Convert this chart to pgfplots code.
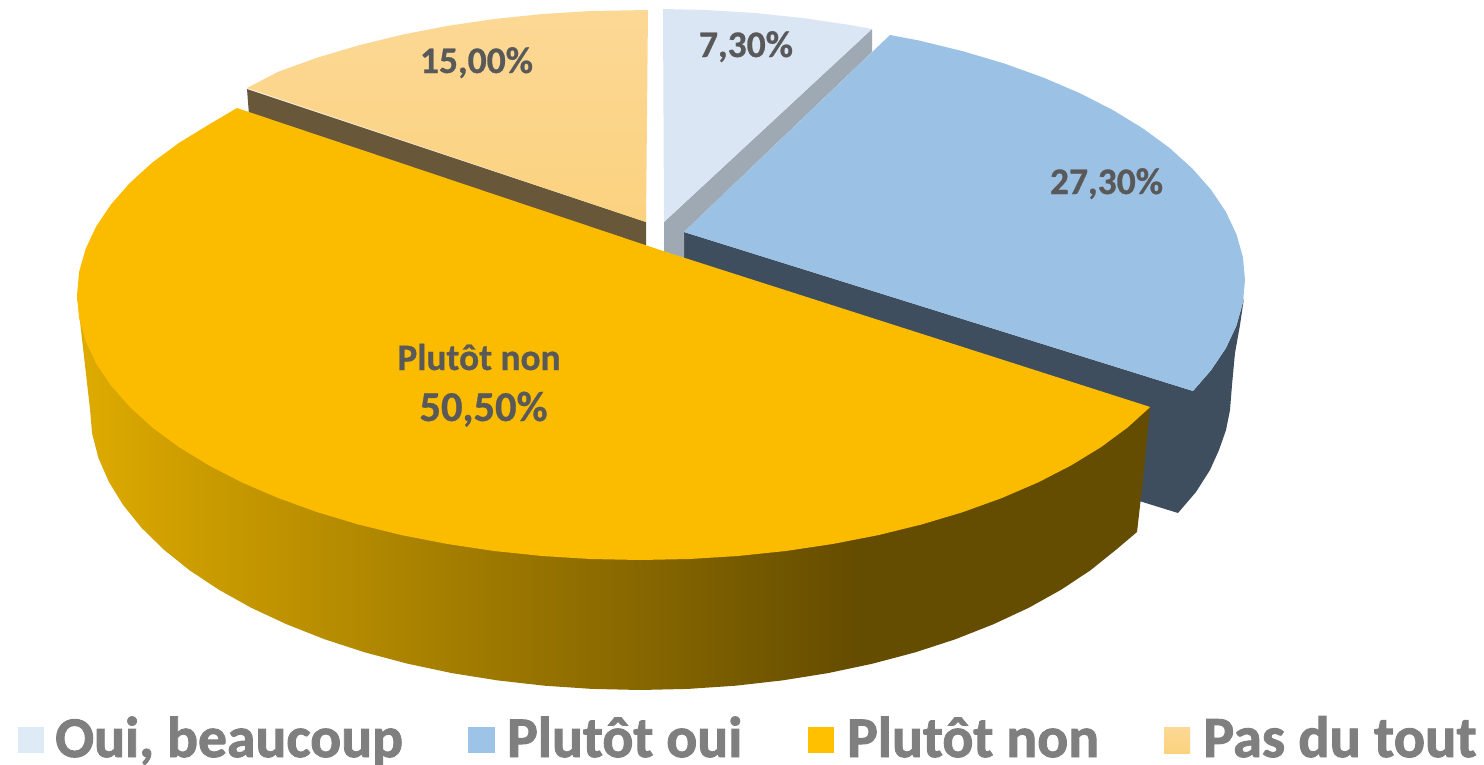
\documentclass[border=0pt]{standalone}
\usepackage{fontspec}
\setmainfont{Carlito}
\newfontfamily\legf[BoldFeatures={FakeBold=1.6}]{Carlito}
\newfontfamily\lblf[BoldFeatures={FakeBold=0.7}]{Carlito}
\usepackage{pgfplots}
\pgfplotsset{compat=1.18}
\definecolor{ltop}{HTML}{DAE6F3}
\definecolor{lside}{HTML}{9FA9B3}
\definecolor{btop}{HTML}{9BC1E4}
\definecolor{bside}{HTML}{3E4E5E}
\definecolor{ytop}{HTML}{FBBC00}
\definecolor{ys1}{HTML}{DDAA00}
\definecolor{ys2}{HTML}{644C00}
\definecolor{otopa}{HTML}{FCD895}
\definecolor{otopb}{HTML}{FBD27F}
\definecolor{oside}{HTML}{69573A}
\definecolor{lab}{HTML}{595959}
\definecolor{leg}{HTML}{7F7F7F}
\definecolor{lgl}{HTML}{DEEAF6}
\definecolor{lgb}{HTML}{9DC3E6}
\definecolor{lgy}{HTML}{FFC000}
\pgfdeclarehorizontalshading{yside}{100bp}{color(0bp)=(ys1); color(25.4bp)=(ys1); color(61.5bp)=(ys2); color(100bp)=(ys2)}
\newcommand{\fs}[1]{\lblf\fontsize{#1}{#1}\selectfont\bfseries}
\newcommand{\fl}[1]{\legf\fontsize{#1}{#1}\selectfont\bfseries}
\begin{document}
\begin{tikzpicture}
\begin{axis}[
  scale only axis, width=1484pt, height=764pt,
  xmin=0, xmax=1484, ymin=0, ymax=764, y dir=reverse,
  hide axis, clip=false, axis on top=false,
  every axis plot/.append style={draw=none, mark=none, line width=0pt},
]
% Plutot oui: side
\addplot[fill=bside] coordinates {(684,232)(1193,391)(1211,370.3)(1225.8,348.3)(1236.4,325.8)(1244,298)(1240,325)(1235,353)(1232,385)(1230,410)(1226,430)(1219,450)(1210,470)(1196,492)(1178,513)(684,360)};
% Oui, beaucoup: side
\addplot[fill=lside] coordinates {(664,222)(872,29)(872,52)(684,232)(684,262)(664,262)};
% Pas du tout: side
\addplot[fill=oside] coordinates {(247,89)(646,222)(646,252)(249,115)};
% Plutot oui: top
\addplot[fill=btop] coordinates {(684,232)(890,35)(919.9,40.7)(963.5,51.4)(1004.9,63.7)(1043.9,77.8)(1080.1,93.3)(1113.3,110.3)(1143.2,128.6)(1169.6,148)(1192.2,168.4)(1211,189.7)(1225.8,211.7)(1236.4,234.2)(1242.9,257)(1245,280)(1242.9,303)(1236.4,325.8)(1225.8,348.3)(1211,370.3)(1193,391)};
% Oui, beaucoup: top
\addplot[fill=ltop] coordinates {(664,222)(663,9)(706.1,10)(754.7,13)(802.7,18)(849.5,24.9)(872,29)};
% Pas du tout: top
\addplot[top color=otopa, bottom color=otopb, shade] coordinates {(648,10)(590.9,11)(542.3,14)(494.3,19)(447.5,25.9)(402.1,34.7)(358.5,45.4)(317.1,57.7)(278.1,71.8)(247,88)(646,222)};
% Plutot non: side
\addplot[shade, shading=yside] coordinates {(77,295)(1150,407)(1143,480)(1137,532)(1116.3,549.5)(1090.6,570.2)(1061.3,589.6)(1028.9,607.7)(993.5,624.2)(955.5,639.2)(915,652.4)(872.4,663.7)(828.1,673.1)(782.3,680.4)(735.5,685.7)(687.9,688.9)(640,690)(592.1,688.9)(544.5,685.7)(497.7,680.4)(451.9,673.1)(407.6,663.7)(365,652.4)(324.5,639.2)(286.5,624.2)(251.1,607.7)(218.7,589.6)(189.4,570.2)(163.7,549.5)(141.5,527.8)(123.2,505.1)(108.8,481.7)(98.4,457.8)(92.1,433.5)(90,409)};
% Plutot non: top
\addplot[fill=ytop] coordinates {(660,250)(1150.2,407)(1127.6,427.5)(1101.2,447)(1071.3,465.3)(1038.1,482.4)(1001.9,498)(962.9,512.1)(921.5,524.5)(877.9,535.2)(832.5,544)(785.7,551)(737.7,556)(689.1,559)(640,560)(590.9,559)(542.3,556)(494.3,551)(447.5,544)(402.1,535.2)(358.5,524.5)(317.1,512.1)(278.1,498)(241.9,482.4)(208.7,465.3)(178.8,447)(152.4,427.5)(129.8,407)(111,385.6)(96.2,363.6)(85.6,341)(79.1,318.1)(77,295)(79.1,271.9)(85.6,249)(96.2,226.4)(111,204.4)(129.8,183)(152.4,162.5)(178.8,143)(208.7,124.7)(237,108)};
% legend swatches
\addplot[fill=lgl] coordinates {(18,727)(44,727)(44,753)(18,753)};
\addplot[fill=lgb] coordinates {(468,727)(495,727)(495,753)(468,753)};
\addplot[fill=lgy] coordinates {(808,727)(834,727)(834,753)(808,753)};
\addplot[top color=otopa, bottom color=otopb, shade] coordinates {(1164,727)(1190,727)(1190,753)(1164,753)};
% data labels
\node[anchor=base, text=lab, inner sep=0pt] at (axis cs:746,57) {\fs{37.5}7,30\%};
\node[anchor=base, text=lab, inner sep=0pt] at (axis cs:1106.5,194) {\fs{37.5}27,30\%};
\node[anchor=base, text=lab, inner sep=0pt] at (axis cs:476.5,73) {\fs{37.5}15,00\%};
\node[anchor=base, text=lab, inner sep=0pt] at (axis cs:479,370) {\fs{37.3}Plutôt non};
\node[anchor=base, text=lab, inner sep=0pt] at (axis cs:483.5,421) {\fs{42.5}50,50\%};
% legend labels
\node[anchor=base west, text=leg, inner sep=0pt] at (axis cs:55,757) {\fl{57.6}Oui, beaucoup};
\node[anchor=base west, text=leg, inner sep=0pt] at (axis cs:507,757) {\fl{57.6}Plutôt oui};
\node[anchor=base west, text=leg, inner sep=0pt] at (axis cs:847,757) {\fl{57.6}Plutôt non};
\node[anchor=base west, text=leg, inner sep=0pt] at (axis cs:1203,757) {\fl{58.3}Pas du tout};
\end{axis}
\pgfresetboundingbox
\useasboundingbox (0,0) rectangle (1484pt,764pt);
\end{tikzpicture}
\end{document}
